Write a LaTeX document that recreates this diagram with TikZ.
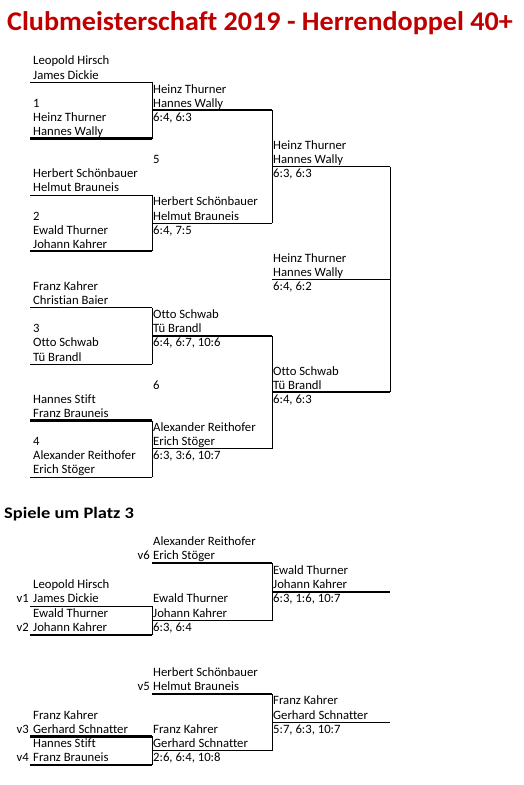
\documentclass[tikz,border=0pt]{standalone}
\usepackage{fontspec}
\setmainfont{Carlito}[Ligatures=NoCommon]
\definecolor{titlered}{RGB}{192,0,0}
\tikzset{
  team/.style={anchor=base west, inner sep=0pt, yshift=-3.9pt, font=\fontsize{12.7}{14}\selectfont},
  seed/.style={anchor=base east, inner sep=0pt, yshift=-3.9pt, font=\fontsize{12.7}{14}\selectfont},
  thinln/.style={line width=0.9pt},
  thickln/.style={line width=2.2pt},
}
\begin{document}
\begin{tikzpicture}[x=1pt, y=-1pt]
  \useasboundingbox (0,0) rectangle (523,785);
  \node[anchor=base west, inner sep=0pt, text=titlered, xscale=1.04, transform shape, font=\bfseries\fontsize{27}{30}\selectfont] (title) at (7,30) {Clubmeisterschaft 2019 - Herrendoppel 40+};

  % Hauptrunde
  \begin{scope}[shift={(0,61)}, y=-14.1pt]
    % Runde 1
    \node[team] (h1r0) at (33,0) {Leopold Hirsch};
    \node[team] (h1r1) at (33,1) {James Dickie};
    \node[team] (m1) at (33,3) {1};
    \node[team] (h1r4) at (33,4) {Heinz Thurner};
    \node[team] (h1r5) at (33,5) {Hannes Wally};
    \node[team] (h1r8) at (33,8) {Herbert Schönbauer};
    \node[team] (h1r9) at (33,9) {Helmut Brauneis};
    \node[team] (m2) at (33,11) {2};
    \node[team] (h1r12) at (33,12) {Ewald Thurner};
    \node[team] (h1r13) at (33,13) {Johann Kahrer};
    \node[team] (h1r16) at (33,16) {Franz Kahrer};
    \node[team] (h1r17) at (33,17) {Christian Baier};
    \node[team] (m3) at (33,19) {3};
    \node[team] (h1r20) at (33,20) {Otto Schwab};
    \node[team] (h1r21) at (33,21) {Tü Brandl};
    \node[team] (h1r24) at (33,24) {Hannes Stift};
    \node[team] (h1r25) at (33,25) {Franz Brauneis};
    \node[team] (m4) at (33,27) {4};
    \node[team] (h1r28) at (33,28) {Alexander Reithofer};
    \node[team] (h1r29) at (33,29) {Erich Stöger};
    % Runde 2
    \node[team] (h2r2) at (153,2) {Heinz Thurner};
    \node[team] (h2r3) at (153,3) {Hannes Wally};
    \node[team] (h2r4) at (153,4) {6:4, 6:3};
    \node[team] (m5) at (153,7) {5};
    \node[team] (h2r10) at (153,10) {Herbert Schönbauer};
    \node[team] (h2r11) at (153,11) {Helmut Brauneis};
    \node[team] (h2r12) at (153,12) {6:4, 7:5};
    \node[team] (h2r18) at (153,18) {Otto Schwab};
    \node[team] (h2r19) at (153,19) {Tü Brandl};
    \node[team] (h2r20) at (153,20) {6:4, 6:7, 10:6};
    \node[team] (m6) at (153,23) {6};
    \node[team] (h2r26) at (153,26) {Alexander Reithofer};
    \node[team] (h2r27) at (153,27) {Erich Stöger};
    \node[team] (h2r28) at (153,28) {6:3, 3:6, 10:7};
    % Runde 3
    \node[team] (h3r6) at (273,6) {Heinz Thurner};
    \node[team] (h3r7) at (273,7) {Hannes Wally};
    \node[team] (h3r8) at (273,8) {6:3, 6:3};
    \node[team] (h3r14) at (273,14) {Heinz Thurner};
    \node[team] (h3r15) at (273,15) {Hannes Wally};
    \node[team] (h3r16) at (273,16) {6:4, 6:2};
    \node[team] (h3r22) at (273,22) {Otto Schwab};
    \node[team] (h3r23) at (273,23) {Tü Brandl};
    \node[team] (h3r24) at (273,24) {6:4, 6:3};
    % Linien
    \draw[thinln] (30,1.5) -- (152,1.5);
    \draw[thickln] (30,5.5) -- (152,5.5);
    \draw[thinln] (30,9.5) -- (152,9.5);
    \draw[thickln] (30,13.5) -- (152,13.5);
    \draw[thinln] (30,17.5) -- (152,17.5);
    \draw[thinln] (30,21.5) -- (152,21.5);
    \draw[thickln] (30,25.5) -- (152,25.5);
    \draw[thinln] (30,29.5) -- (152,29.5);
    \draw[thickln] (152,3.5) -- (272,3.5);
    \draw[thinln] (152,11.5) -- (272,11.5);
    \draw[thickln] (152,19.5) -- (272,19.5);
    \draw[thinln] (152,27.5) -- (272,27.5);
    \draw[thinln] (272,7.5) -- (390,7.5);
    \draw[thinln] (272,15.5) -- (390,15.5);
    \draw[thickln] (272,23.5) -- (390,23.5);
    \draw[thinln] (152,1.5) -- (152,5.5) (152,9.5) -- (152,13.5)
      (152,17.5) -- (152,21.5) (152,25.5) -- (152,29.5);
    \draw[thinln] (272,3.5) -- (272,11.5) (272,19.5) -- (272,27.5);
    \draw[thinln] (390,7.5) -- (390,23.5);
  \end{scope}

  \node[anchor=base west, inner sep=0pt, xscale=1.15, transform shape, font=\bfseries\fontsize{16}{18}\selectfont] (platz3) at (4,518) {Spiele um Platz 3};

  % Platz 3, erster Block
  \begin{scope}[shift={(0,541.7)}, y=-14.33pt]
    \node[team] (p2r0) at (153,0) {Alexander Reithofer};
    \node[team] (p2r1) at (153,1) {Erich Stöger};
    \node[seed] (v6) at (150,1) {v6};
    \node[team] (p2r4) at (153,4) {Ewald Thurner};
    \node[team] (p2r5) at (153,5) {Johann Kahrer};
    \node[team] (p2r6) at (153,6) {6:3, 6:4};
    \node[team] (p3r2) at (273,2) {Ewald Thurner};
    \node[team] (p3r3) at (273,3) {Johann Kahrer};
    \node[team] (p3r4) at (273,4) {6:3, 1:6, 10:7};
    \node[team] (p1r3) at (33,3) {Leopold Hirsch};
    \node[team] (p1r4) at (33,4) {James Dickie};
    \node[seed] (v1) at (29,4) {v1};
    \node[team] (p1r5) at (33,5) {Ewald Thurner};
    \node[team] (p1r6) at (33,6) {Johann Kahrer};
    \node[seed] (v2) at (29,6) {v2};
    \draw[thickln] (152,1.5) -- (272,1.5);
    \draw[thickln] (272,3.5) -- (390,3.5);
    \draw[thinln] (30,4.5) -- (152,4.5);
    \draw[thinln] (152,5.5) -- (272,5.5);
    \draw[thickln] (30,6.5) -- (152,6.5);
    \draw[thinln] (152,4.5) -- (152,6.5) (272,1.5) -- (272,5.5);
  \end{scope}

  % Platz 3, zweiter Block
  \begin{scope}[shift={(0,672.5)}, y=-14.2pt]
    \node[team] (q2r0) at (153,0) {Herbert Schönbauer};
    \node[team] (q2r1) at (153,1) {Helmut Brauneis};
    \node[seed] (v5) at (150,1) {v5};
    \node[team] (q2r4) at (153,4) {Franz Kahrer};
    \node[team] (q2r5) at (153,5) {Gerhard Schnatter};
    \node[team] (q2r6) at (153,6) {2:6, 6:4, 10:8};
    \node[team] (q3r2) at (273,2) {Franz Kahrer};
    \node[team] (q3r3) at (273,3) {Gerhard Schnatter};
    \node[team] (q3r4) at (273,4) {5:7, 6:3, 10:7};
    \node[team] (q1r3) at (33,3) {Franz Kahrer};
    \node[team] (q1r4) at (33,4) {Gerhard Schnatter};
    \node[seed] (v3) at (29,4) {v3};
    \node[team] (q1r5) at (33,5) {Hannes Stift};
    \node[team] (q1r6) at (33,6) {Franz Brauneis};
    \node[seed] (v4) at (29,6) {v4};
    \draw[thickln] (152,1.5) -- (272,1.5);
    \draw[thinln] (272,3.5) -- (390,3.5);
    \draw[thickln] (30,4.5) -- (152,4.5);
    \draw[thinln] (152,5.5) -- (272,5.5);
    \draw[thickln] (30,6.5) -- (152,6.5);
    \draw[thinln] (152,4.5) -- (152,6.5) (272,1.5) -- (272,5.5);
  \end{scope}
\end{tikzpicture}
\end{document}
